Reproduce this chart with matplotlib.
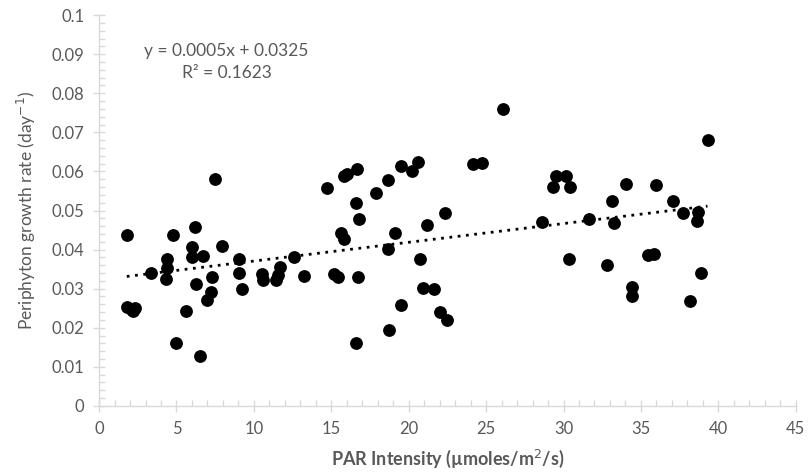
import numpy as np
import matplotlib
matplotlib.use("Agg")
import matplotlib.pyplot as plt
from matplotlib.ticker import MultipleLocator

par = [1.79, 1.83, 2.1, 2.3, 2.2, 3.36, 4.37, 4.41, 4.3, 4.76, 4.97, 5.6, 5.98, 6.02, 6.2,
       6.26, 6.52, 6.74, 6.99, 7.21, 7.27, 7.49, 7.92, 9.04, 9.06, 9.23, 10.5, 10.57,
       11.43, 11.58, 11.68, 12.59, 13.25, 14.7, 15.19, 15.41, 15.62, 15.82, 15.82, 15.99,
       16.57, 16.57, 16.68, 16.74, 16.79, 17.86, 18.64, 18.64, 18.72, 19.09, 19.48, 19.48,
       20.23, 20.57, 20.72, 20.9, 21.16, 21.65, 22.01, 22.32, 22.45, 24.16, 24.75, 26.1,
       28.58, 29.29, 29.5, 30.15, 30.36, 30.41, 31.65, 32.84, 33.1, 33.29, 34.02, 34.41,
       34.41, 35.46, 35.85, 36.0, 37.06, 37.72, 38.17, 38.62, 38.7, 38.91, 39.3]
growth = [0.0437, 0.0254, 0.0245, 0.0250, 0.0243, 0.0339, 0.0376, 0.0352, 0.0324, 0.0437,
          0.0162, 0.0243, 0.0382, 0.0407, 0.0457, 0.0312, 0.0129, 0.0384, 0.0271, 0.0292,
          0.0331, 0.0581, 0.0410, 0.0339, 0.0376, 0.0298, 0.0337, 0.0322, 0.0322, 0.0335,
          0.0356, 0.0380, 0.0333, 0.0557, 0.0337, 0.0331, 0.0442, 0.0426, 0.0588, 0.0593,
          0.0518, 0.0160, 0.0606, 0.0331, 0.0478, 0.0545, 0.0577, 0.0402, 0.0193, 0.0442,
          0.0614, 0.0257, 0.0601, 0.0623, 0.0375, 0.0301, 0.0464, 0.0298, 0.0240, 0.0493,
          0.0220, 0.0619, 0.0621, 0.0759, 0.0471, 0.0561, 0.0589, 0.0588, 0.0375, 0.0561,
          0.0479, 0.0360, 0.0525, 0.0469, 0.0567, 0.0305, 0.0281, 0.0386, 0.0389, 0.0564,
          0.0525, 0.0493, 0.0269, 0.0473, 0.0497, 0.0339, 0.0680]

equation_text = "y = 0.0005x + 0.0325\nR² = 0.1623"
x_label = "PAR Intensity (µmoles/m$^2$/s)"
y_label = "Periphyton growth rate (day$^{-1}$)"

plt.rcParams['font.family'] = ['Lato', 'DejaVu Sans']
gray_text = "#595959"
axis_gray = "#d9d9d9"

fig = plt.figure(figsize=(8.12, 4.72), dpi=100)
ax = fig.add_axes([0.122, 0.140, 0.858, 0.828])

x = np.array(par)
y = np.array(growth)
ax.scatter(x, y, s=85, color="black", zorder=3, linewidths=0)

coef = np.polyfit(x, y, 1)
xs = np.linspace(x.min(), x.max(), 50)
ax.plot(xs, np.polyval(coef, xs), color="black", linestyle=(0, (1, 2)), linewidth=2, zorder=2)

ax.set_xlim(0, 45)
ax.set_ylim(0, 0.1)
ax.xaxis.set_minor_locator(MultipleLocator(1))
ax.yaxis.set_minor_locator(MultipleLocator(0.002))
ax.set_xticks(np.arange(0, 46, 5))
ax.set_xticklabels([str(v) for v in range(0, 46, 5)])
ax.set_yticks(np.arange(0, 0.1001, 0.01))
ax.set_yticklabels(["0"] + [f"{v/100:g}" for v in range(1, 11)])

for side in ["top", "right"]:
    ax.spines[side].set_visible(False)
for side in ["left", "bottom"]:
    ax.spines[side].set_color(axis_gray)
    ax.spines[side].set_linewidth(1)

ax.tick_params(which="major", direction="inout", length=9, width=1, color=axis_gray,
               labelcolor=gray_text, labelsize=12, pad=6)
ax.tick_params(which="minor", direction="in", length=4, width=1, color=axis_gray)

ax.set_xlabel(x_label, color=gray_text, fontsize=13, fontweight="bold", labelpad=8)
ax.set_ylabel(y_label, color=gray_text, fontsize=12.5, labelpad=10)

ax.text(0.183, 0.928, equation_text, transform=ax.transAxes, ha="center", va="top",
        fontsize=12.5, color=gray_text, linespacing=1.45)

fig.savefig("out.png", dpi=100)
